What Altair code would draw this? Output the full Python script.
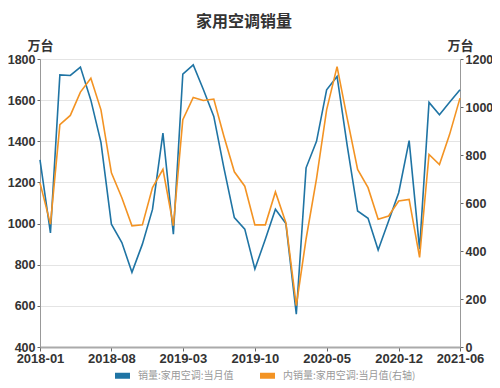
import altair as alt
import pandas as pd

months = pd.date_range("2018-01-01", "2021-06-01", freq="MS")

sales = [1310, 955, 1723, 1720, 1761, 1600, 1395, 997, 908, 763,
         900, 1069, 1440, 948, 1726, 1771, 1652, 1521, 1271, 1029,
         973, 779, 924, 1070, 1000, 560, 1271, 1400, 1650, 1715,
         1380, 1061, 1026, 871, 1013, 1150, 1403, 876, 1589, 1529,
         1590, 1650]

domestic = [684, 512, 926, 965, 1062, 1120, 988, 726, 622, 505,
            509, 664, 740, 505, 947, 1040, 1027, 1033, 878, 730,
            670, 509, 509, 646, 518, 172, 450, 702, 988, 1168,
            954, 740, 664, 532, 546, 608, 615, 373, 802, 760,
            885, 1037]

series_names = ["销量:家用空调:当月值", "内销量:家用空调:当月值(右轴)"]
series_colors = ["#1f74a4", "#f39323"]
tick_months = ["2018-01", "2018-08", "2019-03", "2019-10", "2020-05", "2020-12", "2021-06"]
left_ticks = [400, 600, 800, 1000, 1200, 1400, 1600, 1800]
right_ticks = [0, 200, 400, 600, 800, 1000, 1200]

df = pd.DataFrame({
    "date": list(months) * 2,
    "series": [series_names[0]] * len(months) + [series_names[1]] * len(months),
    "value": sales + domestic,
})

def ms(s):
    return int(pd.Timestamp(s + "-01").value // 10**6)

FONT = "Noto Sans CJK SC"
NUMFONT = "Liberation Sans"

color = alt.Color(
    "series:N",
    scale=alt.Scale(domain=series_names, range=series_colors),
    legend=alt.Legend(
        title=None, orient="none", direction="horizontal",
        legendX=72, legendY=306,
        symbolType="stroke", symbolSize=225, symbolStrokeWidth=6,
        labelFontSize=10, labelColor="#999999", labelFont=FONT,
        labelOffset=5, columnPadding=14,
    ),
)

x = alt.X(
    "date:T",
    scale=alt.Scale(type="utc", domain=[ms("2018-01"), ms("2021-06")]),
    axis=alt.Axis(
        title=None, values=[ms(t) for t in tick_months],
        labelExpr="utcFormat(datum.value, '%Y-%m')",
        grid=False, labelFontSize=13, labelFontWeight="bold",
        labelColor="#333333", labelFont=NUMFONT, domainColor="#aaaaaa", domainWidth=2,
        tickColor="#666666", tickSize=4, labelPadding=1, labelFlush=False,
    ),
)

left = alt.Chart(df).transform_filter(
    alt.datum.series == series_names[0]
).mark_line(strokeWidth=1.6).encode(
    x=x,
    y=alt.Y(
        "value:Q",
        scale=alt.Scale(domain=[400, 1800], nice=False, zero=False),
        axis=alt.Axis(
            title="万台", titleAngle=0, titleX=0, titleY=-14, titleAlign="center",
            titleBaseline="middle", titleFontSize=13, titleFontWeight="bold",
            titleColor="#333333", titleFont=FONT, format="d",
            values=left_ticks, labelFontSize=12.5, labelFontWeight="bold",
            labelColor="#333333", labelFont=NUMFONT, grid=True, gridColor="#e4e4e4",
            domainColor="#999999", tickColor="#666666", tickSize=3, labelPadding=2,
        ),
    ),
    color=color,
)

right = alt.Chart(df).transform_filter(
    alt.datum.series == series_names[1]
).mark_line(strokeWidth=1.6).encode(
    x=x,
    y=alt.Y(
        "value:Q",
        scale=alt.Scale(domain=[0, 1200], nice=False),
        axis=alt.Axis(
            orient="right",
            title="万台", titleAngle=0, titleX=0, titleY=-14, titleAlign="center",
            titleBaseline="middle", titleFontSize=13, titleFontWeight="bold",
            titleColor="#333333", titleFont=FONT, format="d",
            values=right_ticks, labelFontSize=12.5, labelFontWeight="bold",
            labelColor="#333333", labelFont=NUMFONT, grid=False,
            domainColor="#999999", tickColor="#666666", tickSize=3, labelPadding=2,
        ),
    ),
    color=color,
)

chart = alt.layer(left, right).resolve_scale(y="independent").properties(
    width=420,
    height=288,
    title=alt.Title("家用空调销量", fontSize=16, fontWeight="bold", color="#333333",
                    font=FONT, anchor="middle", dx=-6, offset=9),
    autosize=alt.AutoSizeParams(type="none"),
    padding={"left": 32, "top": 51, "right": 32, "bottom": 37},
).configure_view(stroke=None)

chart.save("out.html", embed_options={"renderer": "svg", "actions": False})
